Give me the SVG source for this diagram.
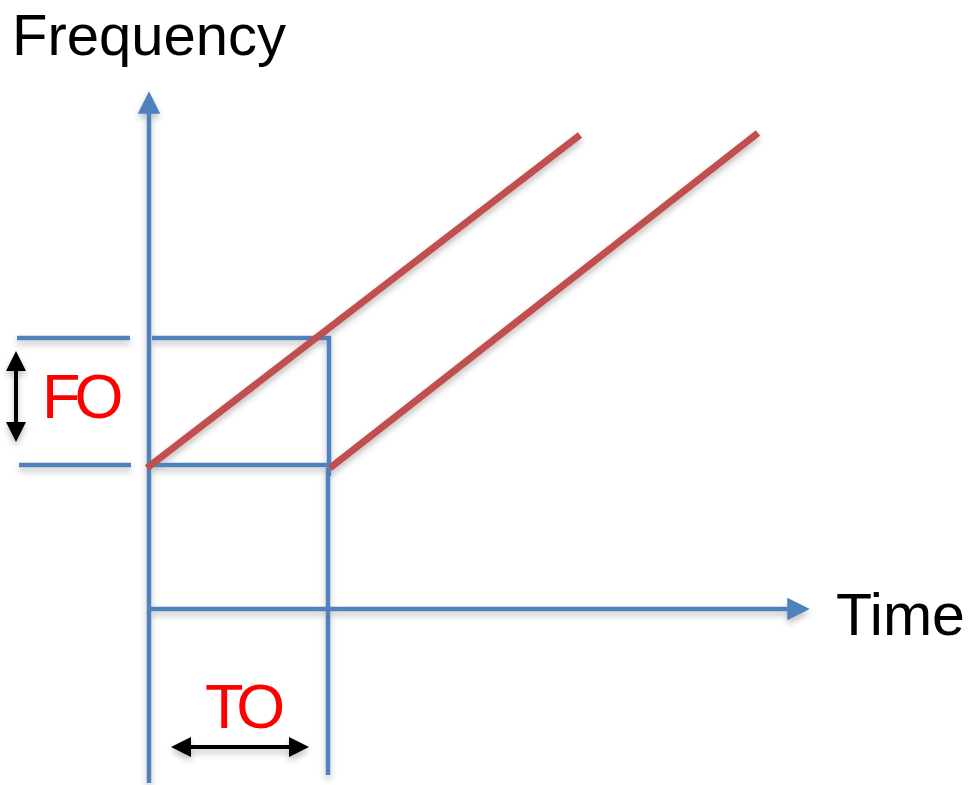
<svg xmlns="http://www.w3.org/2000/svg" width="971" height="785" viewBox="0 0 971 785">
<style>
.ax{stroke:#4f81bd;stroke-width:4.5;fill:none}
.rd{stroke:#c0504d;stroke-width:7;fill:none}
.bk{stroke:#000;stroke-width:4;fill:none}
.lbl{font-family:"Liberation Sans",Arial,sans-serif;fill:#000}
.red{font-family:"Liberation Sans",Arial,sans-serif;fill:#ff0000;letter-spacing:-6px}
</style>
<defs>
<filter id="sh" x="-10%" y="-10%" width="120%" height="130%">
<feDropShadow dx="0" dy="4" stdDeviation="3" flood-color="#000" flood-opacity="0.25"/>
</filter>
<marker id="ba" markerWidth="5" markerHeight="5" refX="3.5" refY="2.5" orient="auto" markerUnits="strokeWidth">
<path d="M0,0 L5,2.5 L0,5 Z" fill="#4f81bd"/>
</marker>
<marker id="ka" markerWidth="5" markerHeight="5" refX="3.5" refY="2.5" orient="auto-start-reverse" markerUnits="strokeWidth">
<path d="M0,0 L5,2.5 L0,5 Z" fill="#000"/>
</marker>
</defs>
<g id="connectors" filter="url(#sh)">
<line id="guide-top-left" class="ax" x1="17" y1="338" x2="130" y2="338"/>
<line id="guide-top" class="ax" x1="152" y1="338" x2="331" y2="338"/>
<line id="guide-bot-left" class="ax" x1="19" y1="465" x2="131" y2="465"/>
<line id="guide-bot" class="ax" x1="152" y1="465" x2="330" y2="465"/>
<line id="guide-right" class="ax" x1="329" y1="336" x2="329" y2="476"/>
<line id="guide-right-low" class="ax" x1="328" y1="468" x2="328" y2="775"/>
<line id="freq-axis" class="ax" x1="149" y1="783" x2="149" y2="98" marker-end="url(#ba)"/>
<line id="time-axis" class="ax" x1="149" y1="609" x2="803" y2="609" marker-end="url(#ba)"/>
<line id="chirp1" class="rd" x1="147" y1="468" x2="580" y2="135"/>
<line id="chirp2" class="rd" x1="330" y1="468" x2="758" y2="133"/>
<line id="fo-arrow" class="bk" x1="16" y1="357" x2="16" y2="436" marker-start="url(#ka)" marker-end="url(#ka)"/>
<line id="to-arrow" class="bk" x1="177" y1="747" x2="303" y2="747" marker-start="url(#ka)" marker-end="url(#ka)"/>
</g>
<g id="freq-label"><text class="lbl" x="12" y="55" font-size="58">Frequency</text></g>
<g id="time-label"><text class="lbl" x="836" y="635" font-size="59">Time</text></g>
<g id="fo-label"><text class="red" x="42" y="418" font-size="63">FO</text></g>
<g id="to-label"><text class="red" x="205" y="728" font-size="63">TO</text></g>
</svg>
